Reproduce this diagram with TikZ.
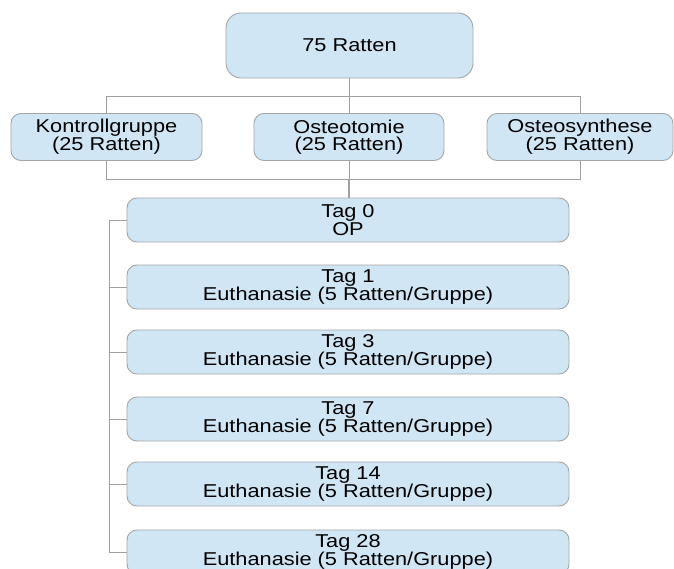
\documentclass[tikz,border=0pt]{standalone}
\usepackage{fontspec}
\setmainfont{Liberation Sans}[FakeStretch=1.17]
\definecolor{boxfill}{RGB}{208,230,244}
\definecolor{boxline}{RGB}{165,165,165}
\definecolor{conncol}{RGB}{160,160,160}
\begin{document}
\begin{tikzpicture}[x=1bp,y=-1bp,
  box/.style={draw=boxline,fill=boxfill,line width=0.9bp,rounded corners=10bp,inner sep=0pt,align=center,
    font=\fontsize{18.6bp}{17.3bp}\selectfont},
  tagbox/.style={box,minimum width=442bp,minimum height=44bp},
  grpbox/.style={box,minimum height=47bp},
  conn/.style={draw=conncol,line width=0.9bp}]
\useasboundingbox (0,0) rectangle (674,569);
% top
\node[box,rounded corners=15bp,minimum width=247bp,minimum height=65bp] (top) at (349.5,45.5) {75 Ratten};
% groups
\node[grpbox,minimum width=191bp] (k) at (106.5,137) {Kontrollgruppe\\(25 Ratten)};
\node[grpbox,minimum width=190bp] (os) at (349,137) {Osteotomie\\(25 Ratten)};
\node[grpbox,minimum width=186bp] (syn) at (580,137) {Osteosynthese\\(25 Ratten)};
% tags
\node[tagbox] (t0) at (348,220) {Tag 0\\OP};
\node[tagbox] (t1) at (348,287) {Tag 1\\Euthanasie (5 Ratten/Gruppe)};
\node[tagbox] (t3) at (348,352) {Tag 3\\Euthanasie (5 Ratten/Gruppe)};
\node[tagbox] (t7) at (348,419) {Tag 7\\Euthanasie (5 Ratten/Gruppe)};
\node[tagbox] (t14) at (348,484) {Tag 14\\Euthanasie (5 Ratten/Gruppe)};
\node[tagbox] (t28) at (348,552) {Tag 28\\Euthanasie (5 Ratten/Gruppe)};
% connectors top -> groups
\draw[conn] (k.north) -- ++(0,-17) -| (top.south);
\draw[conn] (syn.north) -- ++(0,-17) -| (top.south);
\draw[conn] (os.north) -- (os.north |- top.south);
% groups -> tag 0
\draw[conn] (k.south) -- ++(0,18) -| (t0.north);
\draw[conn] (syn.south) -- ++(0,18) -| (t0.north);
\draw[conn] (os.south) -- (os.south |- t0.north);
% spine
\draw[conn] (t0.west) -- ++(-17,0) |- (t28.west);
\foreach \n in {t1,t3,t7,t14}{\draw[conn] (\n.west) -- ++(-17,0);}
\end{tikzpicture}
\end{document}
